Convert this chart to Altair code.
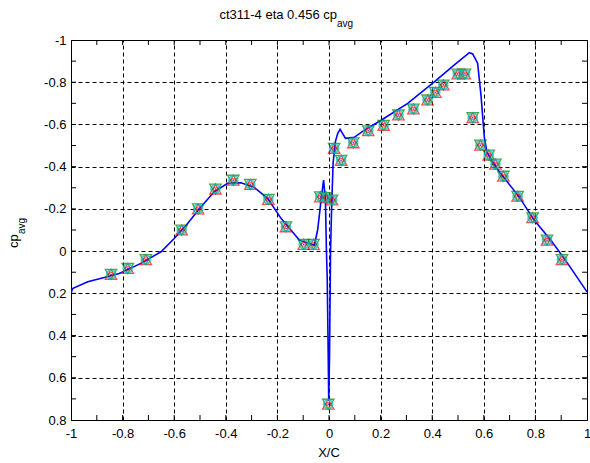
import altair as alt
import pandas as pd

# CFD curve (x/c, cp)
line_x = [-1.0, -0.994, -0.935, -0.871, -0.813, -0.729, -0.651, -0.6, -0.548, -0.496,
          -0.445, -0.393, -0.341, -0.29, -0.238, -0.186, -0.115, -0.057, -0.044, -0.03,
          -0.021, -0.014, -0.010, -0.007, -0.004, -0.001, 0.002, 0.004, 0.006, 0.010,
          0.016, 0.025, 0.034, 0.043, 0.064, 0.098, 0.137, 0.202, 0.305, 0.408,
          0.486, 0.544, 0.557, 0.576, 0.589, 0.602, 0.612, 0.63, 0.66, 0.737,
          0.795, 0.86, 0.925, 1.0]
line_cp = [0.2, 0.177, 0.145, 0.125, 0.106, 0.058, 0.003, -0.06, -0.131, -0.21,
           -0.281, -0.321, -0.324, -0.302, -0.25, -0.155, -0.052, -0.028, -0.1, -0.25,
           -0.336, -0.25, 0.0, 0.12, 0.4, 0.71, 0.5, 0.25, 0.0, -0.2,
           -0.42, -0.52, -0.558, -0.577, -0.534, -0.539, -0.573, -0.62, -0.7, -0.802,
           -0.882, -0.94, -0.934, -0.89, -0.74, -0.54, -0.47, -0.43, -0.376, -0.257,
           -0.147, -0.052, 0.058, 0.193]

# Experimental points
pt_x = [-0.845, -0.78, -0.71, -0.571, -0.507, -0.44, -0.371, -0.305, -0.235, -0.167,
        -0.098, -0.06, -0.034, -0.012, 0.012, -0.003, 0.02, 0.047, 0.094, 0.152,
        0.212, 0.269, 0.327, 0.382, 0.412, 0.443, 0.499, 0.527, 0.557, 0.587,
        0.619, 0.645, 0.676, 0.731, 0.789, 0.845, 0.903]
pt_cp = [0.11, 0.082, 0.04, -0.1, -0.2, -0.294, -0.336, -0.316, -0.245, -0.115,
         -0.032, -0.032, -0.257, -0.253, -0.242, 0.725, -0.487, -0.43, -0.513, -0.57,
         -0.596, -0.645, -0.673, -0.716, -0.752, -0.787, -0.839, -0.839, -0.632, -0.502,
         -0.455, -0.412, -0.355, -0.26, -0.158, -0.052, 0.04]

x_major = [-1, -0.8, -0.6, -0.4, -0.2, 0, 0.2, 0.4, 0.6, 0.8, 1]
y_major = [-1, -0.8, -0.6, -0.4, -0.2, 0, 0.2, 0.4, 0.6, 0.8]
x_minor = [-0.9, -0.8, -0.7, -0.6, -0.5, -0.4, -0.3, -0.2, -0.1, 0, 0.1, 0.2, 0.3, 0.4, 0.5, 0.6, 0.7, 0.8, 0.9]
y_minor = [-0.9, -0.8, -0.7, -0.6, -0.5, -0.4, -0.3, -0.2, -0.1, 0, 0.1, 0.2, 0.3, 0.4, 0.5, 0.6, 0.7]

W, H = 516, 380
FONT = "Liberation Sans"

line_df = pd.DataFrame({"x": line_x, "cp": line_cp, "i": range(len(line_x))})
pt_df = pd.DataFrame({"x": pt_x, "cp": pt_cp})
xt_df = pd.DataFrame({"v": x_minor})
yt_df = pd.DataFrame({"v": y_minor})
one = pd.DataFrame({"a": [0]})

lab = "datum.value < 0 ? '-' + format(-datum.value, '~g') : format(datum.value, '~g')"

xscale = alt.Scale(domain=[-1, 1], nice=False, zero=False)
yscale = alt.Scale(domain=[-1, 0.8], reverse=True, nice=False, zero=False)

xenc = alt.X("x:Q", scale=xscale, axis=alt.Axis(
    values=x_major, title=None, grid=True, gridDash=[4, 3], gridColor="#000000",
    gridOpacity=1, ticks=False, domain=False, labelExpr=lab, labelFont=FONT,
    labelFontSize=13, labelColor="#000000", labelPadding=7, labelFlush=False))
yenc = alt.Y("cp:Q", scale=yscale, axis=alt.Axis(
    values=y_major, title=None, grid=True, gridDash=[4, 3], gridColor="#000000",
    gridOpacity=1, ticks=False, domain=False, labelExpr=lab, labelFont=FONT,
    labelFontSize=13, labelColor="#000000", labelPadding=5, labelFlush=False))

base_line = alt.Chart(line_df).mark_line(color="#0000ff", strokeWidth=1.6, clip=True).encode(
    x=xenc, y=yenc, order="i:Q")

pts = alt.Chart(pt_df)
tri_up = pts.mark_point(shape="triangle-up", size=130, color="#ff0000", strokeWidth=1.3).encode(
    x="x:Q", y="cp:Q")
tri_dn = pts.mark_point(shape="triangle-down", size=130, color="#008000", strokeWidth=1.3).encode(
    x="x:Q", y="cp:Q")
circ = pts.mark_point(shape="circle", size=75, color="#00bfbf", strokeWidth=2).encode(
    x="x:Q", y="cp:Q")
inner = pts.mark_point(shape="circle", size=14, color="#ff0000", strokeWidth=1).encode(
    x="x:Q", y="cp:Q")
dot = pts.mark_point(shape="circle", size=3, color="#0000ff", filled=True).encode(
    x="x:Q", y="cp:Q")

tb = alt.Chart(xt_df).mark_rule(color="#000000", strokeWidth=1).encode(
    x="v:Q", y=alt.value(H), y2=alt.value(H - 5))
tt = alt.Chart(xt_df).mark_rule(color="#000000", strokeWidth=1).encode(
    x="v:Q", y=alt.value(0), y2=alt.value(5))
tl = alt.Chart(yt_df).mark_rule(color="#000000", strokeWidth=1).encode(
    y="v:Q", x=alt.value(0), x2=alt.value(5))
tr = alt.Chart(yt_df).mark_rule(color="#000000", strokeWidth=1).encode(
    y="v:Q", x=alt.value(W), x2=alt.value(W - 5))

t = alt.Chart(one)
title_main = t.mark_text(text="ct311-4 eta 0.456 cp", font=FONT, fontSize=13, align="right",
                         baseline="alphabetic", color="#000000").encode(
    x=alt.value(266), y=alt.value(-21))
title_sub = t.mark_text(text="avg", font=FONT, fontSize=10, align="left",
                        baseline="alphabetic", color="#000000").encode(
    x=alt.value(266), y=alt.value(-13))
xlabel = t.mark_text(text="X/C", font=FONT, fontSize=13, align="center",
                     baseline="alphabetic", color="#000000").encode(
    x=alt.value(W / 2), y=alt.value(H + 37))
ylab_main = t.mark_text(text="cp", font=FONT, fontSize=13, align="left", angle=270,
                        baseline="alphabetic", color="#000000").encode(
    x=alt.value(-53), y=alt.value(208))
ylab_sub = t.mark_text(text="avg", font=FONT, fontSize=10, align="left", angle=270,
                       baseline="alphabetic", color="#000000").encode(
    x=alt.value(-46), y=alt.value(194))

chart = alt.layer(
    base_line, tri_up, tri_dn, circ, inner, dot,
    tb, tt, tl, tr,
    title_main, title_sub, xlabel, ylab_main, ylab_sub
).properties(
    width=W, height=H,
    autosize=alt.AutoSizeParams(type="none"),
    padding={"left": 71, "top": 40, "right": 3, "bottom": 43},
    background="#ffffff"
).configure_view(stroke="#000000", strokeWidth=1)

chart.save("out.html", embed_options={"renderer": "svg", "actions": False})
